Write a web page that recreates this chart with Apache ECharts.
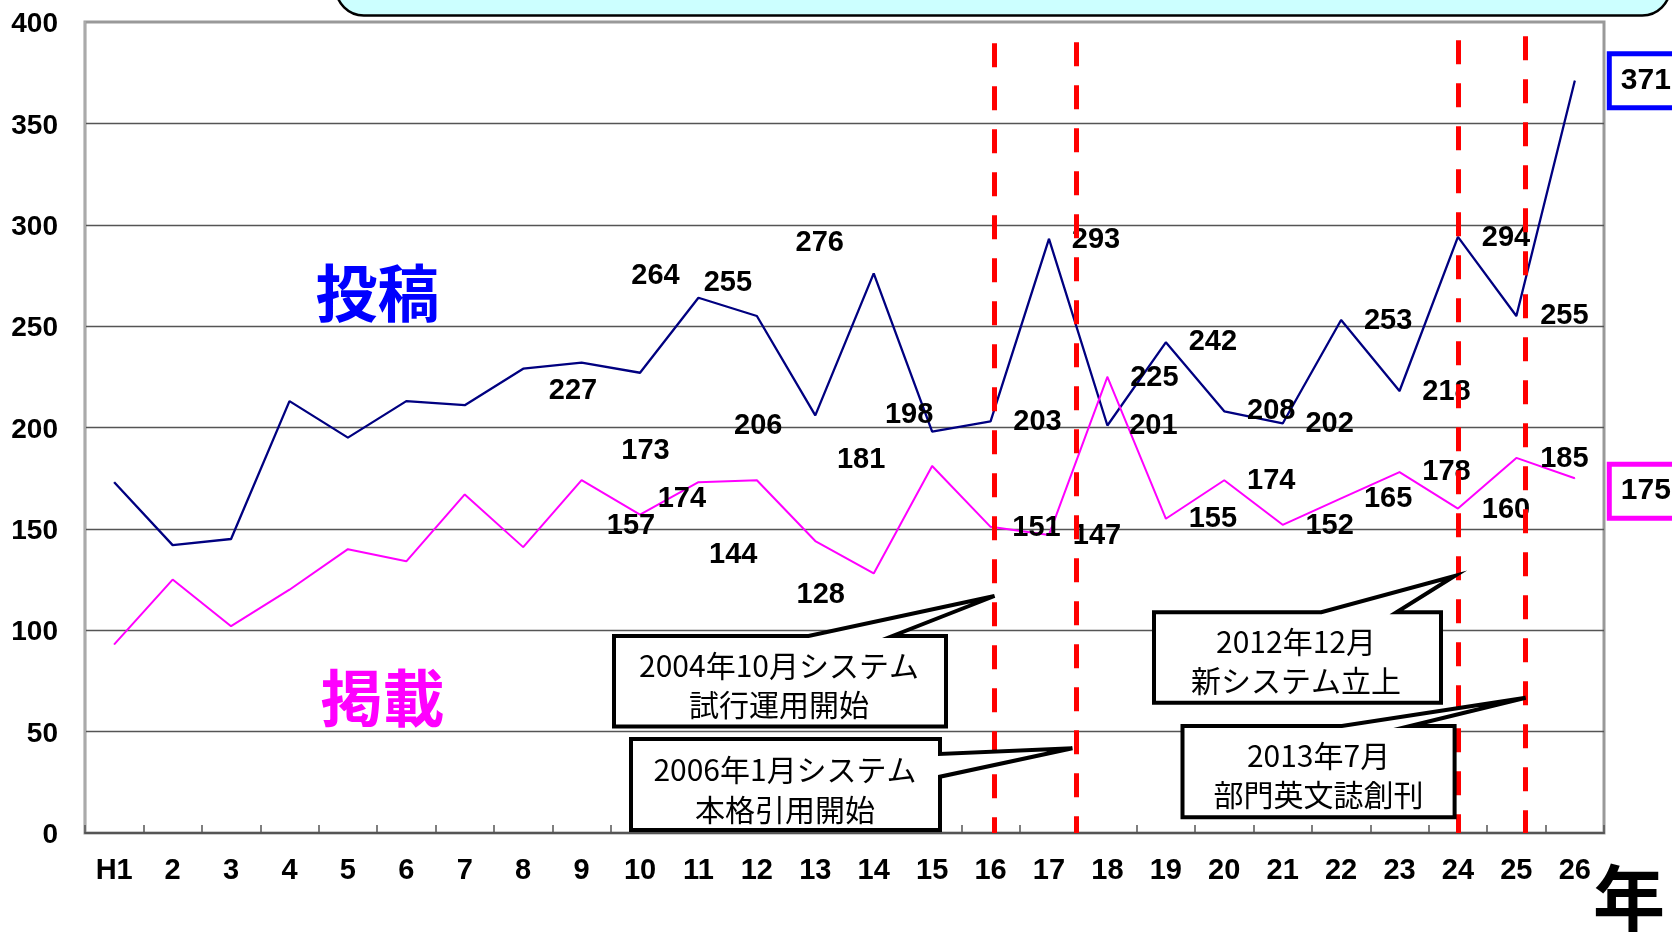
<!DOCTYPE html>
<html><head><meta charset="utf-8">
<script src="https://cdn.jsdelivr.net/npm/echarts@6/dist/echarts.min.js"></script>
<style>html,body{margin:0;padding:0;background:#fff;overflow:hidden}#c{width:1672px;height:932px}</style>
</head><body><div id="c"></div>
<script>
// ---- data ----
const categories = ['H1','2','3','4','5','6','7','8','9','10','11','12','13','14','15','16','17','18','19','20','21','22','23','24','25','26'];
const submissions = [173,142,145,213,195,213,211,229,232,227,264,255,206,276,198,203,293,201,242,208,202,253,218,294,255,371];
const published   = [93,125,102,120,140,134,167,141,174,157,173,174,144,128,181,151,147,225,155,174,152,165,178,160,185,175];
const yMin = 0, yMax = 400, yStep = 50;
// event marker positions (category index units) and their top values
const eventPos = [15.07, 16.46, 23.01, 24.16];
const eventTop = [389.5, 390, 391, 393];
const calloutTexts = ['2004年10月システム\n試行運用開始','2006年1月システム\n本格引用開始','2012年12月\n新システム立上','2013年7月\n部門英文誌創刊'];
const seriesNames = ['投稿','掲載'];
const unitLabel = '年';

// ---- label placement (pixels, styling only) ----
const firstLabeled = 9;
const subOffsets = [[-67,18],[-43,-22],[-29,-33],[-57,11],[-54,-30],[-23,-17],[47,1],[47,1],[46,1],[47,0],[47,0],[47,1],[47,1],[47,1],[48,1],[48,0]];
const pubOffsets = [[-9,11],[-53,-31],[-75,19],[-82,14],[-53,22],[-71,-6],[46,1],[48,1],[47,1],[47,0],[47,1],[47,1],[47,1],[47,0],[48,1],[48,1]];

const NUMFONT = 'Liberation Sans';
const CJK = '"Noto Sans CJK JP"';

function buildData(vals, offsets, boxColor, boxDy) {
  return vals.map((v, i) => {
    const item = { value: v };
    const j = i - firstLabeled;
    if (j >= 0 && j < offsets.length) {
      item.label = { show: true, offset: offsets[j] };
    } else if (i === vals.length - 1) {
      item.label = {
        show: true, align: 'left', verticalAlign: 'middle', offset: [37, boxDy],
        backgroundColor: '#fff', borderColor: boxColor, borderWidth: 5,
        padding: [9, 30, 9, 9], fontSize: 30, fontFamily: NUMFONT, lineHeight: 31
      };
    }
    return item;
  });
}

const chart = echarts.init(document.getElementById('c'), null, { renderer: 'canvas' });

const labelBase = {
  show: false, position: 'inside', align: 'center', verticalAlign: 'middle',
  color: '#000', fontSize: 29, fontWeight: 'bold', fontFamily: NUMFONT
};

const L = 85, T = 22, W = 1519, H = 811;

const callouts = [
  { pts: [[614,636],[808.5,636],[994.5,596],[892.6,636],[946,636],[946,726.5],[614,726.5]], tx: 779, ty: 685.5, lh: 39 },
  { pts: [[631,739],[940,739],[940,754],[1072.4,748.3],[940,776.7],[940,830],[631,830]], tx: 785, ty: 790, lh: 40 },
  { pts: [[1154,612.3],[1321.3,612.3],[1454.6,576],[1396.5,612.3],[1441,612.3],[1441,702.7],[1154,702.7]], tx: 1296, ty: 661.5, lh: 39 },
  { pts: [[1182.5,726],[1341.8,726],[1525.7,697.7],[1410,726],[1454.6,726],[1454.6,817.3],[1182.5,817.3]], tx: 1318.5, ty: 775.5, lh: 39 }
];

const graphics = [
  { type: 'rect', z: 50, shape: { x: 336, y: -40, width: 1334, height: 55.5, r: 28 },
    style: { fill: '#CCFFFF', stroke: '#000', lineWidth: 2.5 } },
  { type: 'text', z: 50, x: 377.5, y: 293, style: { text: seriesNames[0], fill: '#0000FF', font: 'bold 62px ' + CJK, textAlign: 'center', textVerticalAlign: 'middle' } },
  { type: 'text', z: 50, x: 382.5, y: 698, style: { text: seriesNames[1], fill: '#FF00FF', font: 'bold 62px ' + CJK, textAlign: 'center', textVerticalAlign: 'middle' } },
  { type: 'text', z: 50, x: 1629, y: 898, style: { text: unitLabel, fill: '#000', font: 'bold 72px ' + CJK, textAlign: 'center', textVerticalAlign: 'middle' } }
];
callouts.forEach((c, i) => {
  graphics.push({ type: 'polygon', z: 60, shape: { points: c.pts },
    style: { fill: '#fff', stroke: '#000', lineWidth: 4, lineJoin: 'miter' } });
  graphics.push({ type: 'text', z: 61, x: c.tx, y: c.ty,
    style: { text: calloutTexts[i], fill: '#000', font: '30px ' + CJK, textAlign: 'center', textVerticalAlign: 'middle', lineHeight: c.lh } });
});

const option = {
  animation: false,
  backgroundColor: '#fff',
  grid: { left: L, top: T, width: W, height: H, show: true, borderColor: '#999', borderWidth: 3, backgroundColor: 'transparent' },
  xAxis: [{
    type: 'category', data: categories, boundaryGap: true,
    axisLine: { show: true, onZero: false, lineStyle: { color: '#555', width: 2 } },
    axisTick: { show: true, inside: true, length: 8, lineStyle: { color: '#555', width: 1.5 } },
    axisLabel: { color: '#000', fontSize: 29, fontWeight: 'bold', fontFamily: NUMFONT, margin: 23, interval: 0 },
    splitLine: { show: false }
  }, {
    type: 'value', min: -0.5, max: 25.5, show: false, gridIndex: 0
  }],
  yAxis: {
    type: 'value', min: yMin, max: yMax, interval: yStep,
    axisLine: { show: true, onZero: false, lineStyle: { color: '#aaa', width: 2 } },
    axisTick: { show: false },
    axisLabel: {
      color: '#000', fontSize: 28, fontWeight: 'bold', fontFamily: NUMFONT, margin: 27,
      formatter: '{a|{value}}',
      rich: { a: { color: '#000', fontSize: 28, fontWeight: 'bold', fontFamily: NUMFONT, padding: [5, 0, 0, 0] } }
    },
    splitLine: { show: true, showMinLine: false, showMaxLine: false, lineStyle: { color: '#555', width: 1.3 } }
  },
  series: [{
    name: seriesNames[0], type: 'line', z: 3,
    data: buildData(submissions, subOffsets, '#0000FF', 0),
    symbol: 'circle', symbolSize: 1, showSymbol: true, showAllSymbol: true,
    itemStyle: { color: '#000080' },
    lineStyle: { color: '#000080', width: 2.3 },
    label: labelBase
  }, {
    name: seriesNames[1], type: 'line', z: 3,
    data: buildData(published, pubOffsets, '#FF00FF', 13),
    symbol: 'circle', symbolSize: 1, showSymbol: true, showAllSymbol: true,
    itemStyle: { color: '#FF00FF' },
    lineStyle: { color: '#FF00FF', width: 2 },
    label: labelBase
  }, {
    type: 'line', xAxisIndex: 1, z: 6, silent: true,
    data: [[-0.5, 0], [-0.5, 0]], symbol: 'none', lineStyle: { opacity: 0 },
    markLine: {
      silent: true, symbol: 'none', animation: false,
      label: { show: false },
      lineStyle: { color: '#FF0000', width: 5, type: [24, 19] },
      data: eventPos.map((p, i) => [{ coord: [p, eventTop[i]] }, { coord: [p, 0] }])
    }
  }],
  graphic: graphics
};
chart.setOption(option);
</script>
</body></html>
